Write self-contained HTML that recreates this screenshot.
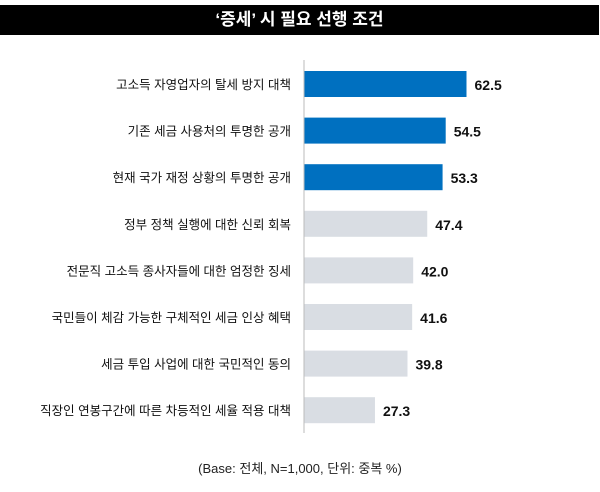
<!DOCTYPE html>
<html><head><meta charset="utf-8"><style>
body{margin:0;background:#fff;font-family:"Liberation Sans","Noto Sans CJK KR",sans-serif;}
#wrap{position:relative;width:600px;height:492px;overflow:hidden}
#title{position:absolute;left:0;top:5px;width:599px;height:30px;background:#000;color:#fff;font-size:17px;font-weight:bold;text-align:center;line-height:30px}
#foot{position:absolute;left:0;width:600px;top:458px;text-align:center;font-size:13px;color:#222}
</style></head><body>
<div id="wrap">
<div id="title">‘증세’ 시 필요 선행 조건</div>
<svg id="svg" width="600" height="492" style="position:absolute;left:0;top:0"></svg>
<div id="foot">(Base: 전체, N=1,000, 단위: 중복 %)</div>
</div>
<script>
const categories=["고소득 자영업자의 탈세 방지 대책","기존 세금 사용처의 투명한 공개","현재 국가 재정 상황의 투명한 공개","정부 정책 실행에 대한 신뢰 회복","전문직 고소득 종사자들에 대한 엄정한 징세","국민들이 체감 가능한 구체적인 세금 인상 혜택","세금 투입 사업에  대한 국민적인 동의","직장인 연봉구간에 따른 차등적인 세율 적용 대책"];
const values=[62.5,54.5,53.3,47.4,42.0,41.6,39.8,27.3];
const highlight=[true,true,true,false,false,false,false,false];
const svg=document.getElementById('svg');const NS="http://www.w3.org/2000/svg";
const x0=304,kx=2.6;const x=v=>x0+v*kx;
const y=i=>84+i*46.6;const bh=26;
function mk(t,a){const e=document.createElementNS(NS,t);for(const k in a)e.setAttribute(k,a[k]);svg.appendChild(e);return e;}
categories.forEach((c,i)=>{
 const r=mk('rect',{x:x0,y:y(i)-bh/2,width:x(values[i])-x0,height:bh,fill:highlight[i]?'#0070c0':'#d9dde3'});
 
 
 const l=mk('text',{x:291,y:y(i)+5,'text-anchor':'end','font-size':'12.5',fill:'#111'});
 l.textContent=c;
 
 
 const v=mk('text',{x:x(values[i])+8,y:y(i)+6,'font-size':'14','font-weight':'bold',fill:'#111'});
 v.textContent=values[i].toFixed(1);
 
 
});
const ax=mk('line',{x1:x0,x2:x0,y1:60,y2:433,stroke:'#bbb','stroke-width':1});


</script>
</body></html>
